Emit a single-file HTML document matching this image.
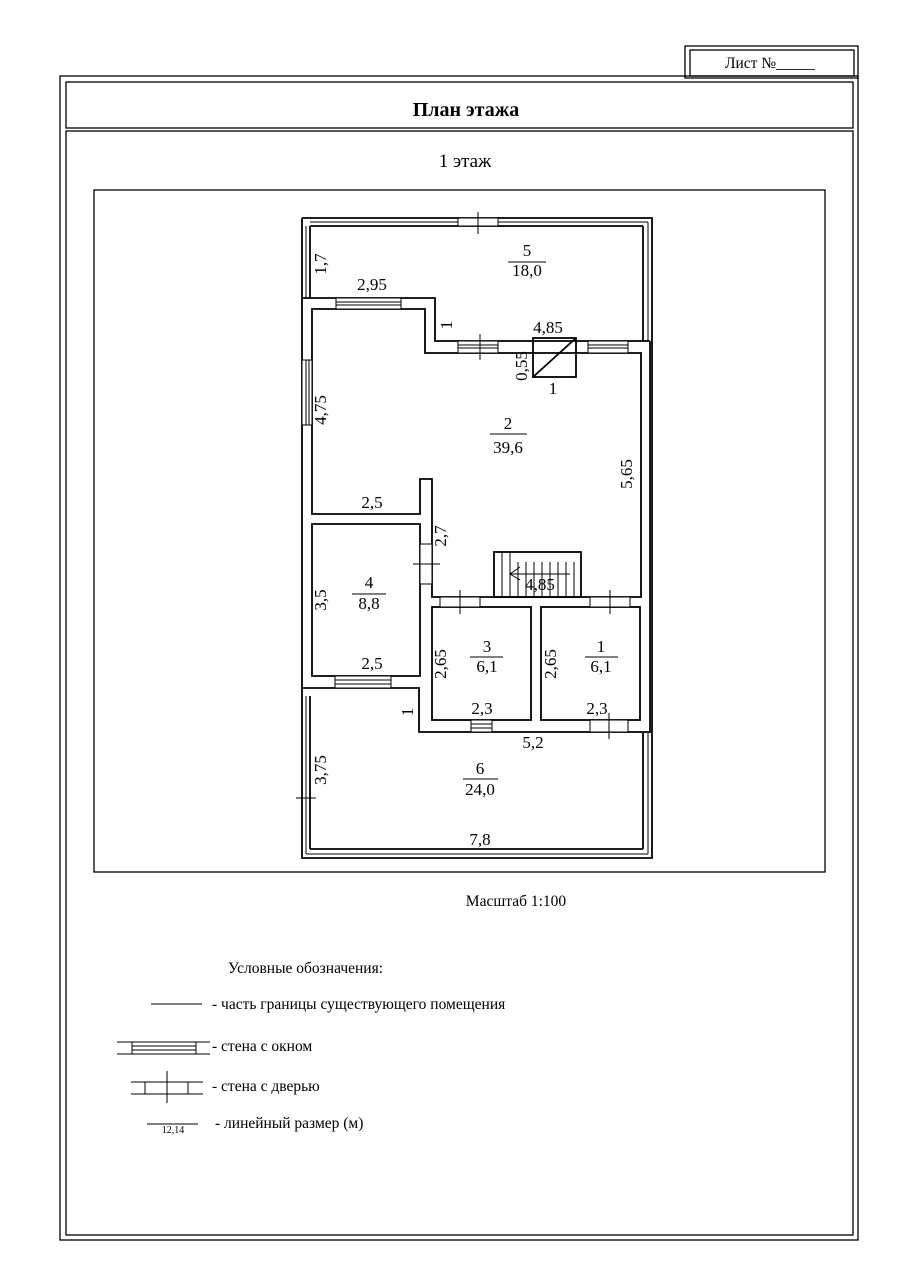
<!DOCTYPE html>
<html><head><meta charset="utf-8"><style>
html,body{margin:0;padding:0;background:#fff;}
svg{display:block;}
text{font-family:"Liberation Serif","DejaVu Serif",serif;fill:#000;}
</style></head><body>
<svg width="904" height="1280" viewBox="0 0 904 1280" xmlns="http://www.w3.org/2000/svg">
<g fill="none" stroke="#000" stroke-width="1.3">
<rect x="685" y="46" width="173" height="32"/>
<rect x="690" y="50" width="164" height="26"/>
<rect x="60" y="76" width="798" height="1164"/>
<rect x="66" y="82" width="787" height="46"/>
<rect x="66" y="131" width="787" height="1104"/>
<rect x="94" y="190" width="731" height="682"/>
</g>
<text x="725" y="68" font-size="15.5">Лист №_____</text>
<text x="466" y="116" font-size="20" font-weight="bold" text-anchor="middle">План этажа</text>
<text x="465" y="167" font-size="19" text-anchor="middle">1 этаж</text>

<g fill="none" stroke="#000" stroke-width="1.8">
<polyline points="302,218 302,858 652,858 652,218 302,218"/>
<line x1="310" y1="226" x2="643" y2="226"/>
<line x1="310" y1="226" x2="310" y2="298"/>
<line x1="643" y1="226" x2="643" y2="341"/>
<polyline points="302,298 435,298 435,341 650,341"/>
<line x1="650" y1="341" x2="650" y2="733"/>
<polygon points="312,309 425,309 425,353 641,353 641,597 432,597 432,479 420,479 420,514 312,514"/>
<polygon points="312,524 420,524 420,676 312,676"/>
<rect x="432" y="607" width="99" height="113"/>
<rect x="541" y="607" width="99" height="113"/>
<polyline points="302,688 419,688 419,732 650,732"/>
<line x1="310" y1="696" x2="310" y2="849"/>
<line x1="310" y1="849" x2="643" y2="849"/>
<line x1="643" y1="849" x2="643" y2="733"/>
<rect x="533" y="338" width="43" height="39"/>
<line x1="533" y1="377" x2="576" y2="338"/>
<rect x="494" y="552" width="87" height="45"/>
</g>
<g stroke="#000" stroke-width="1">
<line x1="502" y1="552" x2="502" y2="597"/><line x1="510" y1="552" x2="510" y2="597"/>
<line x1="518" y1="562" x2="518" y2="597"/><line x1="526" y1="562" x2="526" y2="597"/>
<line x1="534" y1="562" x2="534" y2="597"/><line x1="542" y1="562" x2="542" y2="597"/>
<line x1="550" y1="562" x2="550" y2="597"/><line x1="558" y1="562" x2="558" y2="597"/>
<line x1="566" y1="562" x2="566" y2="597"/><line x1="574" y1="562" x2="574" y2="597"/>
<line x1="510" y1="574" x2="570" y2="574"/>
<polyline points="520,567 510,574 520,580" fill="none"/>
<line x1="306" y1="226" x2="306" y2="298"/><line x1="306" y1="696" x2="306" y2="854"/>
<line x1="310" y1="222" x2="648" y2="222"/><line x1="306" y1="854" x2="648" y2="854"/>
<line x1="648" y1="222" x2="648" y2="341"/><line x1="648" y1="733" x2="648" y2="854"/>
<rect x="336" y="298" width="65" height="11" fill="#fff"/>
<line x1="336" y1="302" x2="401" y2="302"/><line x1="336" y1="305" x2="401" y2="305"/>
<rect x="302" y="360" width="10" height="65" fill="#fff"/>
<line x1="306" y1="360" x2="306" y2="425"/><line x1="309" y1="360" x2="309" y2="425"/>
<rect x="458" y="341" width="40" height="12" fill="#fff"/>
<line x1="458" y1="345" x2="498" y2="345"/><line x1="458" y1="348" x2="498" y2="348"/>
<line x1="480" y1="334" x2="480" y2="360"/>
<rect x="588" y="341" width="40" height="12" fill="#fff"/>
<line x1="588" y1="345" x2="628" y2="345"/><line x1="588" y1="348" x2="628" y2="348"/>
<rect x="335" y="676" width="56" height="12" fill="#fff"/>
<line x1="335" y1="680" x2="391" y2="680"/><line x1="335" y1="684" x2="391" y2="684"/>
<rect x="471" y="720" width="21" height="12" fill="#fff"/>
<line x1="471" y1="724" x2="492" y2="724"/><line x1="471" y1="728" x2="492" y2="728"/>
<rect x="458" y="218" width="40" height="8" fill="#fff"/><line x1="478" y1="212" x2="478" y2="234"/>
<rect x="440" y="597" width="40" height="10" fill="#fff"/><line x1="460" y1="590" x2="460" y2="614"/>
<rect x="590" y="597" width="40" height="10" fill="#fff"/><line x1="610" y1="590" x2="610" y2="614"/>
<rect x="420" y="544" width="12" height="40" fill="#fff"/><line x1="413" y1="564" x2="440" y2="564"/>
<rect x="590" y="720" width="38" height="12" fill="#fff"/><line x1="609" y1="713" x2="609" y2="739"/>
<line x1="296" y1="798" x2="316" y2="798"/>
<line x1="508" y1="262" x2="546" y2="262"/><line x1="490" y1="434" x2="527" y2="434"/>
<line x1="352" y1="594" x2="386" y2="594"/><line x1="470" y1="657" x2="503" y2="657"/>
<line x1="585" y1="657" x2="618" y2="657"/><line x1="463" y1="779" x2="498" y2="779"/>
</g>
<g font-size="17" text-anchor="middle">
<text x="527" y="256">5</text><text x="527" y="276">18,0</text>
<text x="508" y="429">2</text><text x="508" y="453">39,6</text>
<text x="369" y="588">4</text><text x="369" y="609">8,8</text>
<text x="487" y="652">3</text><text x="487" y="672">6,1</text>
<text x="601" y="652">1</text><text x="601" y="672">6,1</text>
<text x="480" y="774">6</text><text x="480" y="795">24,0</text>
<text x="372" y="290">2,95</text><text x="548" y="333">4,85</text>
<text x="553" y="394">1</text><text x="372" y="508">2,5</text>
<text x="372" y="669">2,5</text><text x="482" y="714">2,3</text>
<text x="597" y="714">2,3</text><text x="533" y="748">5,2</text>
<text x="480" y="845">7,8</text><text x="540" y="590">4,85</text>
<text transform="translate(326,264) rotate(-90)">1,7</text>
<text transform="translate(326,410) rotate(-90)">4,75</text>
<text transform="translate(632,474) rotate(-90)">5,65</text>
<text transform="translate(446,536) rotate(-90)">2,7</text>
<text transform="translate(326,600) rotate(-90)">3,5</text>
<text transform="translate(446,664) rotate(-90)">2,65</text>
<text transform="translate(556,664) rotate(-90)">2,65</text>
<text transform="translate(326,770) rotate(-90)">3,75</text>
<text transform="translate(527,366) rotate(-90)">0,55</text>
<text transform="translate(413,712) rotate(-90)">1</text>
<text transform="translate(452,325) rotate(-90)">1</text>
</g>
<text x="516" y="906" font-size="15.5" text-anchor="middle">Масштаб 1:100</text>
<g font-size="15.5">
<text x="228" y="973">Условные обозначения:</text>
<text x="212" y="1009">- часть границы существующего помещения</text>
<text x="212" y="1051">- стена с окном</text>
<text x="212" y="1091">- стена с дверью</text>
<text x="215" y="1128">- линейный размер (м)</text>
</g>
<g stroke="#000" stroke-width="1">
<line x1="151" y1="1004" x2="202" y2="1004"/>
<line x1="117" y1="1042" x2="210" y2="1042"/><line x1="117" y1="1054" x2="210" y2="1054"/>
<rect x="132" y="1042" width="64" height="12" fill="none"/>
<line x1="132" y1="1046" x2="196" y2="1046"/><line x1="132" y1="1050" x2="196" y2="1050"/>
<line x1="131" y1="1082" x2="203" y2="1082"/><line x1="131" y1="1094" x2="203" y2="1094"/>
<line x1="145" y1="1082" x2="145" y2="1094"/><line x1="188" y1="1082" x2="188" y2="1094"/>
<line x1="167" y1="1071" x2="167" y2="1103"/>
<line x1="147" y1="1124" x2="198" y2="1124"/>
</g>
<text x="173" y="1133" font-size="10" text-anchor="middle">12,14</text>
</svg>
</body></html>
